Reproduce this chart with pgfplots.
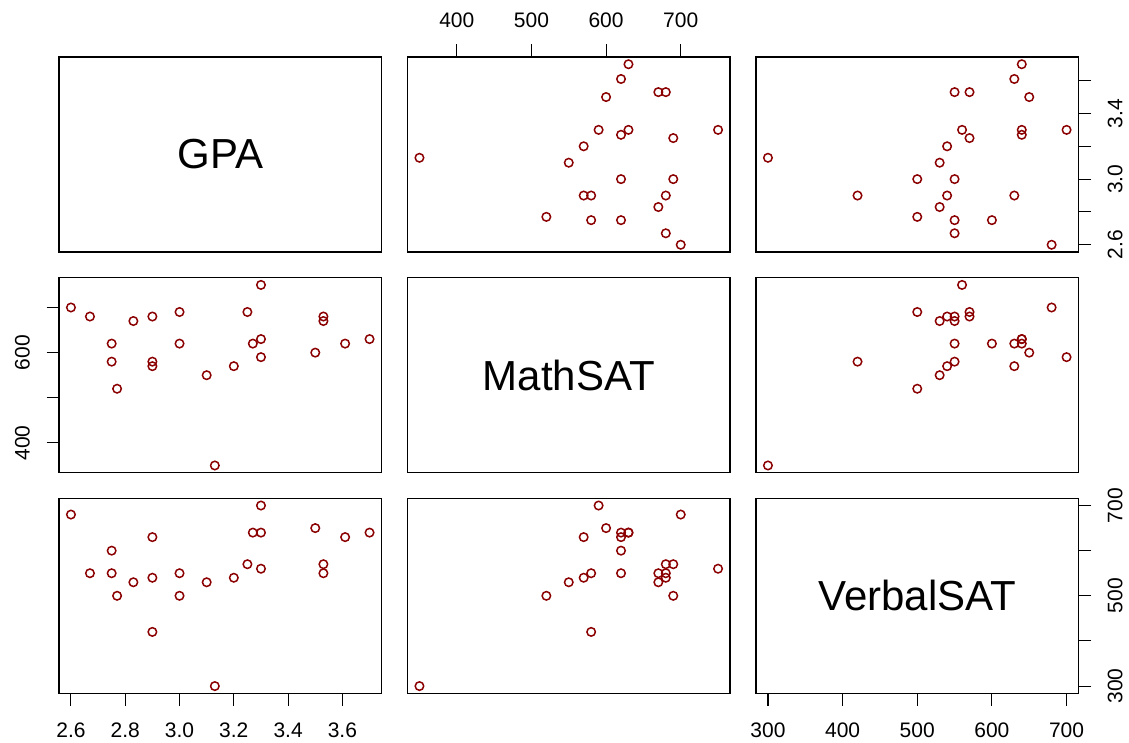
\documentclass[border=0pt]{standalone}
\usepackage{pgfplots}
\pgfplotsset{compat=1.18}
\usepackage{pgfplotstable}
\usepackage{fontspec}
\setmainfont{Liberation Sans}
\definecolor{ptcol}{HTML}{8B0000}

\pgfplotstableread{
G M V
2.60 700 680
2.67 680 550
2.75 620 600
2.75 580 550
2.77 520 500
2.83 670 530
2.90 680 540
2.90 580 420
2.90 570 630
3.00 690 500
3.00 620 550
3.10 550 530
3.13 350 300
3.20 570 540
3.25 690 570
3.27 620 640
3.30 750 560
3.30 630 640
3.30 590 700
3.50 600 650
3.53 680 570
3.53 670 550
3.61 620 630
3.70 630 640
}\data

\tikzset{diag/.style={font=\fontsize{42}{50}\selectfont}}
\pgfplotsset{
 panel/.style={scale only axis, width=322.5pt, height=195pt, anchor=north west,
   axis line style={line width=1.1pt, black},
   tick style={line width=1.1pt, black},
   tick align=outside, major tick length=12.5pt,
   xtick=\empty, ytick=\empty,
   tick label style={font=\fontsize{21}{24}\selectfont, inner sep=0pt, text=black},
   ticklabel shift=16.5pt},
 gx/.style={xmin=2.556, xmax=3.744},
 mx/.style={xmin=334, xmax=766},
 vx/.style={xmin=284, xmax=716},
 gy/.style={ymin=2.556, ymax=3.744},
 my/.style={ymin=334, ymax=766},
 vy/.style={ymin=284, ymax=716},
 pts/.style={only marks, mark=o, mark size=4.25pt, ptcol, line width=1.5pt},
}

\begin{document}
\begin{tikzpicture}
\useasboundingbox (0,0) rectangle (1129pt,-743pt);
% Row 1
\begin{axis}[panel, at={(59pt,-57pt)}, xmin=0, xmax=1, ymin=0, ymax=1]
\node[diag] at (axis cs:0.5,0.5) {GPA};
\end{axis}
\begin{axis}[panel, at={(407.5pt,-57pt)}, mx, gy,
  xtick={400,500,600,700}, xticklabels={400,500,600,700},
  xtick pos=right, xticklabel pos=right]
\addplot[pts] table[x=M, y=G] {\data};
\end{axis}
\begin{axis}[panel, at={(756pt,-57pt)}, vx, gy,
  ytick={2.6,2.8,3.0,3.2,3.4,3.6}, yticklabels={2.6,,3.0,,3.4,},
  ytick pos=right, yticklabel pos=right,
  yticklabel style={rotate=90, anchor=north}]
\addplot[pts] table[x=V, y=G] {\data};
\end{axis}
% Row 2
\begin{axis}[panel, at={(59pt,-277.7pt)}, gx, my,
  ytick={400,500,600,700}, yticklabels={400,,600,},
  ytick pos=left, yticklabel pos=left,
  yticklabel style={rotate=90, anchor=south}]
\addplot[pts] table[x=G, y=M] {\data};
\end{axis}
\begin{axis}[panel, at={(407.5pt,-277.7pt)}, xmin=0, xmax=1, ymin=0, ymax=1]
\node[diag] at (axis cs:0.5,0.5) {MathSAT};
\end{axis}
\begin{axis}[panel, at={(756pt,-277.7pt)}, vx, my]
\addplot[pts] table[x=V, y=M] {\data};
\end{axis}
% Row 3
\begin{axis}[panel, at={(59pt,-498.3pt)}, gx, vy,
  xtick={2.6,2.8,3.0,3.2,3.4,3.6}, xticklabels={2.6,2.8,3.0,3.2,3.4,3.6},
  xtick pos=left, xticklabel pos=left]
\addplot[pts] table[x=G, y=V] {\data};
\end{axis}
\begin{axis}[panel, at={(407.5pt,-498.3pt)}, mx, vy]
\addplot[pts] table[x=M, y=V] {\data};
\end{axis}
\begin{axis}[panel, at={(756pt,-498.3pt)}, vx, vy,
  xtick={300,400,500,600,700}, xticklabels={300,400,500,600,700},
  xtick pos=left, xticklabel pos=left,
  ytick={300,400,500,600,700}, yticklabels={300,,500,,700},
  ytick pos=right, yticklabel pos=right,
  yticklabel style={rotate=90, anchor=north}]
\node[diag] at (axis cs:500,500) {VerbalSAT};
\end{axis}
\end{tikzpicture}
\end{document}
